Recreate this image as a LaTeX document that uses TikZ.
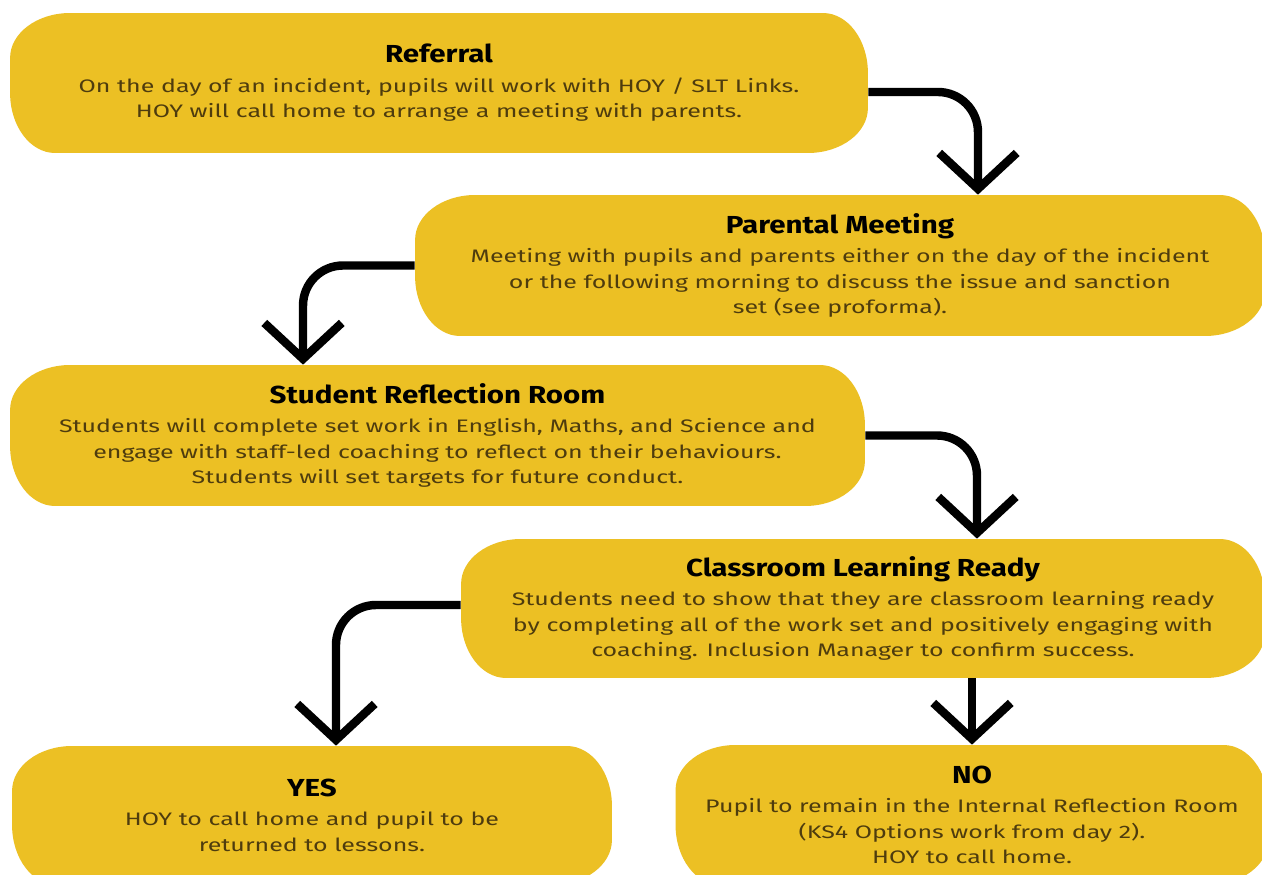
\documentclass[tikz,border=0pt]{standalone}
\usepackage{fontspec}
\setmainfont{Fira Sans}
\newfontfamily\bodyfont{Fira Sans}[FakeStretch=1.38]
\newfontfamily\titlefont{Fira Sans}[FakeStretch=1.2]
\usetikzlibrary{arrows.meta}

\definecolor{panel}{RGB}{236,192,36}
\definecolor{bodyink}{RGB}{78,60,14}

% heading line of a stage
\newcommand{\stagetitle}[1]{{\color{black}\titlefont\fontsize{14}{17}\selectfont\bfseries #1}\\[2pt]}

\tikzset{
	stage/.style = {fill = panel, inner sep = 0pt, align = center, text = bodyink,
		font = \bodyfont\fontsize{10.3}{14.6}\selectfont, minimum height = 2.8cm,
		/utils/exec = {\pgfsetcornersarced{\pgfpoint{1.2cm}{0.9cm}}}},
	flow/.style = {line width = 4.8pt, rounded corners = 0.8cm,
		-{Straight Barb[length = 0.72cm, width = 1.55cm]}}
}

\begin{document}
\begin{tikzpicture}[x = 0.02cm, y = -0.02cm]
	\clip (0,0) rectangle (1262,875);
	\fill[white] (0,0) rectangle (1262,875);

	% the stages
	\node[stage, minimum width = 17.16cm] (ref) at (439,83)
		{\stagetitle{Referral}On the day of an incident, pupils will work with HOY / SLT Links.\\
		HOY will call home to arrange a meeting with parents.};
	\node[stage, minimum width = 17.0cm, minimum height = 2.82cm] (par) at (840,265.5)
		{\stagetitle{Parental Meeting}Meeting with pupils and parents either on the day of the incident\\
		or the following morning to discuss the issue and sanction\\
		set (see proforma).};
	\node[stage, minimum width = 17.1cm, minimum height = 2.82cm] (stu) at (437.5,435.5)
		{\stagetitle{Student Reflection Room}Students will complete set work in English, Maths, and Science and\\
		engage with staff-led coaching to reflect on their behaviours.\\
		Students will set targets for future conduct.};
	\node[stage, minimum width = 16.08cm, minimum height = 2.78cm] (cls) at (863,608.5)
		{\stagetitle{Classroom Learning Ready}Students need to show that they are classroom learning ready\\
		by completing all of the work set and positively engaging with\\
		coaching. Inclusion Manager to confirm success.};
	\node[stage, minimum width = 12.0cm, minimum height = 2.78cm] (yes) at (312,815.5)
		{\stagetitle{YES}HOY to call home and pupil to be\\
		returned to lessons.};
	\node[stage, minimum width = 11.86cm, minimum height = 2.8cm] (no) at (972,815)
		{\stagetitle{NO}Pupil to remain in the Internal Reflection Room\\
		(KS4 Options work from day 2).\\
		HOY to call home.};

	% arrows between stages
	\draw[flow] ([yshift = -0.18cm]ref.east) -| ([xshift = 2.76cm]par.north);
	\draw[flow] (par.west) -| ([xshift = -2.69cm]stu.north);
	\draw[flow] (stu.east) -| ([xshift = 2.28cm]cls.north);
	\draw[flow] ([yshift = 0.07cm]cls.west) -| ([xshift = 0.48cm]yes.north);
	\draw[flow] (no.north |- cls.south) -- (no.north);
\end{tikzpicture}
\end{document}
